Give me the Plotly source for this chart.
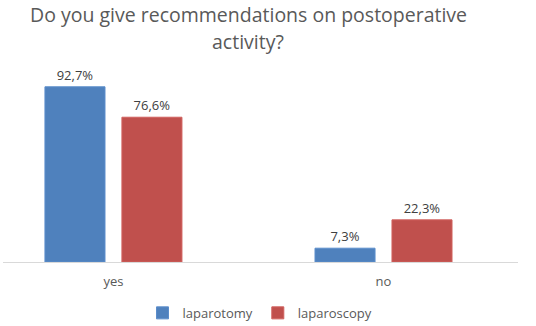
import plotly.graph_objects as go

categories = ["yes", "no"]
laparotomy = [92.7, 7.3]
laparoscopy = [76.6, 22.3]
lap_labels = ["92,7%", "7,3%"]
lsc_labels = ["76,6%", "22,3%"]
title_lines = ["Do you give recommendations on postoperative", "activity?"]

W, H = 536, 326
T, B, L, R = 73, 64, 3, 18

fig = go.Figure()
fig.add_trace(go.Bar(name="laparotomy", x=categories, y=laparotomy, text=lap_labels,
                     textposition="outside", marker=dict(color="#4F81BD", line=dict(color="#5B8DCB", width=1)),
                     textfont=dict(color="#404040", size=13), cliponaxis=False))
fig.add_trace(go.Bar(name="laparoscopy", x=categories, y=laparoscopy, text=lsc_labels,
                     textposition="outside", marker=dict(color="#C0504D", line=dict(color="#D0605D", width=1)),
                     textfont=dict(color="#404040", size=13), cliponaxis=False))

title_centers = [14, 41]
for line, cy in zip(title_lines, title_centers):
    fig.add_annotation(text=line, xref="paper", yref="paper", x=(248 - L) / (W - L - R), xanchor="center",
                       y=(H - B - cy) / (H - T - B), yanchor="middle",
                       showarrow=False, font=dict(size=19.5, color="#595959"))

fig.update_layout(
    width=W, height=H,
    paper_bgcolor="white", plot_bgcolor="white",
    font=dict(family="Open Sans, Liberation Sans, sans-serif", color="#595959"),
    margin=dict(l=L, r=R, t=T, b=B, autoexpand=False),
    barmode="group", bargap=0.43, bargroupgap=0.22,
    showlegend=True,
    legend=dict(orientation="h", x=(260 - L) / (W - L - R), xanchor="center", y=-0.19, yanchor="top",
                font=dict(size=13, color="#595959"), itemwidth=30),
    xaxis=dict(range=[-0.409, 1.498], showline=True, linecolor="#D9D9D9", linewidth=1,
               ticks="outside", ticklen=7, tickcolor="rgba(0,0,0,0)", automargin=False,
               tickfont=dict(size=13, color="#595959")),
    yaxis=dict(range=[0, 100], visible=False, showgrid=False, automargin=False),
)
fig.write_html("out.html", config={"displayModeBar": False},
               post_script="document.body.style.margin='0';")
